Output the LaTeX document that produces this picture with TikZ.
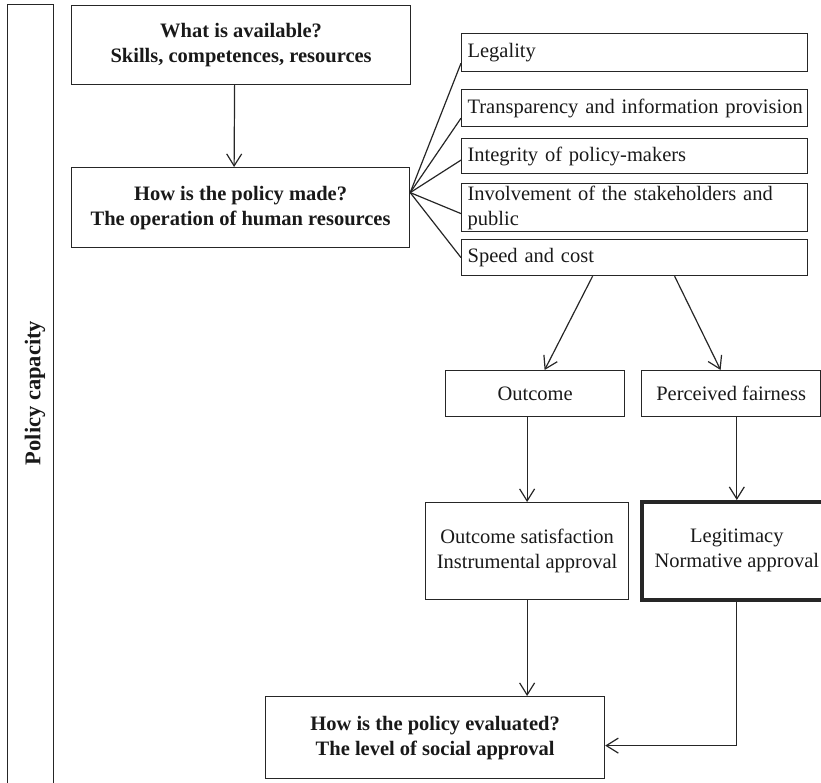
\documentclass[tikz,border=0pt]{standalone}
\usepackage{fontspec}
\setmainfont{Liberation Serif}
\usetikzlibrary{arrows.meta}

\begin{document}
\begin{tikzpicture}[x=1pt,y=-1pt,
  every node/.style={font=\fontsize{20.5}{25}\selectfont, text=black!90},
  box/.style={draw=black!85, line width=1.2pt, inner sep=0pt, align=center, anchor=north west},
  headbox/.style={box, font=\bfseries\fontsize{20.5}{25}\selectfont},
  itembox/.style={draw=black!85, line width=1.2pt, anchor=north west, align=left,
    text width=334pt, inner xsep=6pt, inner ysep=0pt},
  heavybox/.style={box, line width=3.6pt},
  link/.style={draw=black!85, line width=1.2pt},
  arr/.style={link, -{Straight Barb[length=12pt,width=15pt,line width=1.2pt]}}]

\useasboundingbox (0,0) rectangle (821,782);
\clip (0,0) rectangle (821,782);

% side band with its rotated title
\node[box, minimum width=46pt, minimum height=800pt] (band) at (7,4) {};
\node[font=\bfseries\fontsize{22.5}{26}\selectfont, rotate=90] (bandlabel) at (35,393) {Policy capacity};

% main column
\node[headbox, minimum width=339pt, minimum height=79pt] (avail) at (71,5)
  {What is available?\\ Skills, competences, resources};
\node[headbox, minimum width=338pt, minimum height=80pt] (made) at (71,167)
  {How is the policy made?\\ The operation of human resources};

% criteria of the policy-making process
\node[itembox, minimum height=38pt] (legal) at (461,33) {Legality};
\node[itembox, minimum height=37pt] (transp) at (461,89) {\mbox{Transparency and information provision}};
\node[itembox, minimum height=35pt] (integ) at (461,138) {Integrity of policy-makers};
\node[itembox, minimum height=48pt] (involve) at (461,183) {\mbox{Involvement of the stakeholders and}\\ public};
\node[itembox, minimum height=36pt] (speed) at (461,239) {Speed and cost};

% results
\node[box, minimum width=179pt, minimum height=46pt] (outcome) at (445,370) {Outcome};
\node[box, minimum width=179pt, minimum height=46pt] (fair) at (641,370) {Perceived fairness};
\node[box, minimum width=203pt, minimum height=97pt] (osat) at (425,502)
  {Outcome satisfaction\\ Instrumental approval};
\node[heavybox, minimum width=190pt, minimum height=98pt] (legit) at (640,500)
  {Legitimacy\\ Normative approval};

% evaluation
\node[headbox, minimum width=339pt, minimum height=82pt] (eval) at (265,696)
  {How is the policy evaluated?\\ The level of social approval};

% connectors
\draw[arr] ([xshift=-6.5pt]avail.south) -- ([xshift=-6.5pt]made.north);

\draw[link] ([yshift=15pt]made.east) -- ([yshift=9pt]legal.south west);
\draw[link] ([yshift=15pt]made.east) -- ([yshift=9pt]transp.south west);
\draw[link] ([yshift=15pt]made.east) -- ([yshift=-4pt]integ.west);
\draw[link] ([yshift=15pt]made.east) -- ([yshift=-6pt]involve.west);
\draw[link] ([yshift=15pt]made.east) -- (speed.west);

\draw[arr] ([xshift=-42pt]speed.south) -- ([xshift=9.5pt]outcome.north);
\draw[arr] ([xshift=40pt]speed.south) -- ([xshift=-10.5pt]fair.north);

\draw[arr] (outcome.south -| osat.north) -- (osat.north);
\draw[arr] (fair.south -| legit.north) -- (legit.north);

\draw[arr] (osat.south) -- (osat.south |- eval.north);
\draw[arr] (legit.south) |- ([yshift=-8pt]eval.east);
\end{tikzpicture}
\end{document}
